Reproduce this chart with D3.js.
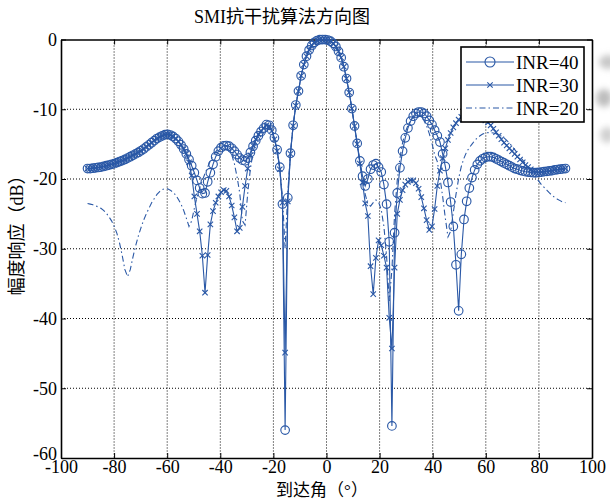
<!DOCTYPE html>
<html>
<head>
<meta charset="utf-8">
<script src="https://cdn.jsdelivr.net/npm/d3@7"></script>
<style>
  body { margin: 0; background: #fff; }
  svg { display: block; }
</style>
</head>
<body>
<svg id="chart" width="610" height="499"></svg>
<script>
/* Data: angle grid (180 samples from -90 to 90) and the three patterns in dB */
const angles = d3.range(180).map(i => -90 + i * 180 / 179);

const inr40 = [
  -18.5,-18.5,-18.45,-18.4,-18.35,-18.3,-18.2,-18.1,-18.0,-17.9,
  -17.8,-17.65,-17.5,-17.35,-17.2,-17.0,-16.8,-16.6,-16.4,-16.2,
  -15.95,-15.7,-15.4,-15.1,-14.8,-14.5,-14.2,-14.0,-13.8,-13.65,
  -13.6,-13.7,-13.9,-14.2,-14.6,-15.1,-15.7,-16.4,-17.2,-18.1,
  -19.1,-20.2,-21.3,-22.1,-22.0,-20.4,-19.1,-17.9,-16.8,-16.0,
  -15.5,-15.25,-15.2,-15.3,-15.6,-16.0,-16.5,-17.0,-17.3,-17.4,
  -17.0,-16.2,-15.3,-14.5,-13.8,-13.2,-12.7,-12.2,-12.3,-13.0,
  -14.1,-15.8,-18.3,-23.6,-56.0,-22.7,-16.3,-12.3,-9.4,-7.4,
  -5.2,-3.6,-2.4,-1.5,-0.85,-0.4,-0.15,-0.03,0,-0.02,
  -0.08,-0.25,-0.55,-1.0,-1.7,-2.6,-3.9,-5.6,-7.6,-9.9,
  -12.4,-14.9,-17.4,-19.6,-21.0,-20.0,-18.6,-18.0,-17.8,-18.3,
  -19.0,-20.8,-23.6,-29.0,-55.4,-27.7,-22.0,-18.4,-16.0,-14.1,
  -12.7,-11.7,-11.0,-10.6,-10.4,-10.4,-10.6,-11.0,-11.6,-12.2,
  -13.0,-13.8,-14.7,-16.4,-18.2,-20.5,-23.3,-26.8,-32.3,-38.9,
  -30.8,-25.8,-23.2,-21.3,-19.8,-18.7,-17.9,-17.4,-17.1,-16.9,
  -16.8,-16.8,-16.9,-17.1,-17.3,-17.5,-17.7,-17.9,-18.1,-18.3,
  -18.5,-18.6,-18.75,-18.85,-18.95,-19.0,-19.05,-19.1,-19.1,-19.05,
  -19.0,-18.95,-18.9,-18.85,-18.8,-18.7,-18.65,-18.6,-18.55,-18.5
];

const inr30 = [
  -18.5,-18.5,-18.45,-18.4,-18.35,-18.3,-18.2,-18.1,-18.0,-17.9,
  -17.8,-17.65,-17.5,-17.35,-17.2,-17.0,-16.8,-16.6,-16.4,-16.2,
  -15.95,-15.7,-15.4,-15.1,-14.8,-14.5,-14.2,-14.0,-13.8,-13.65,
  -13.6,-13.7,-13.9,-14.2,-14.6,-15.1,-15.7,-16.4,-17.6,-19.5,
  -22.5,-25.0,-27.5,-31.0,-36.3,-30.9,-26.5,-24.6,-23.4,-22.5,
  -21.9,-21.6,-21.7,-22.5,-23.8,-25.5,-27.5,-27.0,-24.0,-21.0,
  -18.5,-16.6,-15.2,-14.3,-13.6,-13.1,-12.7,-12.3,-12.4,-13.1,
  -14.3,-16.0,-18.6,-23.4,-44.9,-23.2,-16.4,-12.4,-9.5,-7.4,
  -5.2,-3.6,-2.4,-1.5,-0.85,-0.4,-0.15,-0.03,0,-0.02,
  -0.08,-0.25,-0.55,-1.0,-1.7,-2.6,-3.9,-5.6,-7.6,-9.9,
  -12.4,-15.0,-17.8,-20.5,-23.5,-25.3,-32.5,-36.5,-31.3,-28.8,
  -29.5,-31.0,-32.7,-39.9,-44.3,-32.7,-25.0,-23.0,-21.6,-20.8,
  -20.4,-20.2,-20.2,-20.6,-21.4,-22.6,-24.2,-25.9,-27.3,-26.8,
  -24.3,-21.0,-18.8,-17.0,-15.6,-14.4,-13.4,-12.6,-12.0,-11.5,
  -11.1,-10.8,-10.6,-10.5,-10.5,-10.6,-10.8,-11.0,-11.3,-11.6,
  -11.9,-12.3,-12.8,-13.3,-13.8,-14.3,-14.8,-15.2,-15.6,-16.0,
  -16.4,-16.8,-17.2,-17.6,-18.0,-18.3,-18.6,-18.9,-19.0,-19.05,
  -19.0,-18.95,-18.9,-18.85,-18.8,-18.7,-18.65,-18.6,-18.55,-18.5
];

const inr20 = [
  -23.5,-23.6,-23.7,-23.85,-24.0,-24.2,-24.5,-24.9,-25.4,-26.0,
  -26.8,-27.8,-29.2,-31.0,-33.0,-34.0,-33.0,-31.2,-29.6,-28.2,
  -27.0,-25.9,-25.0,-24.2,-23.4,-22.8,-22.2,-21.8,-21.5,-21.4,
  -21.4,-21.6,-21.9,-22.3,-22.9,-23.6,-24.5,-25.6,-26.8,-26.0,
  -24.2,-22.6,-21.3,-20.2,-19.2,-18.3,-17.4,-16.7,-16.1,-15.6,
  -15.3,-15.2,-15.3,-15.7,-16.5,-17.8,-19.7,-22.0,-26.0,-26.6,
  -22.0,-18.5,-16.2,-14.6,-13.6,-13.0,-12.6,-12.3,-12.4,-13.1,
  -14.3,-16.0,-18.5,-22.5,-30.0,-22.0,-16.2,-12.3,-9.4,-7.4,
  -5.2,-3.6,-2.4,-1.5,-0.85,-0.4,-0.15,-0.03,0,-0.02,
  -0.08,-0.25,-0.55,-1.0,-1.7,-2.6,-3.9,-5.6,-7.6,-9.9,
  -12.4,-15.0,-17.6,-20.0,-22.2,-23.6,-23.9,-23.4,-23.0,-23.3,
  -24.4,-26.8,-31.0,-37.5,-33.0,-25.0,-20.2,-17.0,-14.8,-13.3,
  -12.3,-11.6,-11.1,-10.9,-10.9,-11.1,-11.6,-12.4,-13.5,-14.9,
  -16.5,-17.5,-19.8,-22.5,-25.6,-28.3,-27.5,-24.8,-22.2,-19.9,
  -18.2,-17.0,-16.1,-15.5,-15.0,-14.5,-14.1,-13.8,-13.55,-13.4,
  -13.35,-13.35,-13.4,-13.5,-13.65,-13.85,-14.1,-14.45,-14.85,-15.3,
  -15.8,-16.3,-16.8,-17.3,-17.8,-18.3,-18.8,-19.3,-19.8,-20.3,
  -20.8,-21.2,-21.6,-22.0,-22.35,-22.65,-22.9,-23.1,-23.3,-23.4
];

const seriesNames = ["INR=40", "INR=30", "INR=20"];
const xTicks = [-100, -80, -60, -40, -20, 0, 20, 40, 60, 80, 100];
const yTicks = [-60, -50, -40, -30, -20, -10, 0];

/* Layout */
const plot = { left: 61, right: 592, top: 39.5, bottom: 458 };
const blue = "#2a58a6";
const serif = "'Liberation Serif', 'Times New Roman', serif";
const cjk = "'Liberation Serif', 'Noto Sans CJK SC', serif";

const svg = d3.select("#chart");

const x = d3.scaleLinear().domain([-100, 100]).range([plot.left, plot.right]);
const y = d3.scaleLinear().domain([-60, 0]).range([plot.bottom, plot.top]);

/* faint smudge at the right edge of the scan */
const defs = svg.append("defs");
defs.append("filter").attr("id", "blur")
  .append("feGaussianBlur").attr("stdDeviation", 3);
const smudge = svg.append("g").attr("filter", "url(#blur)");
smudge.append("ellipse").attr("cx", 608).attr("cy", 62).attr("rx", 9).attr("ry", 7).attr("fill", "#c8c8c8");
smudge.append("ellipse").attr("cx", 604).attr("cy", 98).attr("rx", 8).attr("ry", 9).attr("fill", "#bdbdbd");
smudge.append("ellipse").attr("cx", 607).attr("cy", 135).attr("rx", 7).attr("ry", 8).attr("fill", "#d0d0d0");

/* Grid */
svg.append("g")
  .selectAll("line")
  .data(xTicks.slice(1, -1))
  .join("line")
    .attr("x1", d => x(d)).attr("x2", d => x(d))
    .attr("y1", plot.top).attr("y2", plot.bottom)
    .attr("stroke", "#000").attr("stroke-width", 1)
    .attr("stroke-dasharray", "1,2");

svg.append("g")
  .selectAll("line")
  .data(yTicks.slice(1, -1))
  .join("line")
    .attr("x1", plot.left).attr("x2", plot.right)
    .attr("y1", d => y(d)).attr("y2", d => y(d))
    .attr("stroke", "#000").attr("stroke-width", 1)
    .attr("stroke-dasharray", "1,2");

/* Axes: ticks inward on all four sides */
const xAxis = svg.append("g")
  .attr("transform", `translate(0,${plot.bottom})`)
  .call(d3.axisBottom(x).tickValues(xTicks).tickSizeInner(-5).tickSizeOuter(0).tickPadding(2)
    .tickFormat(d => d));
const yAxis = svg.append("g")
  .attr("transform", `translate(${plot.left},0)`)
  .call(d3.axisLeft(y).tickValues(yTicks).tickSizeInner(-5).tickSizeOuter(0).tickPadding(4)
    .tickFormat(d => d));
const xTop = svg.append("g")
  .attr("transform", `translate(0,${plot.top})`)
  .call(d3.axisTop(x).tickValues(xTicks).tickSizeInner(-5).tickSizeOuter(0).tickFormat(""));
const yRight = svg.append("g")
  .attr("transform", `translate(${plot.right},0)`)
  .call(d3.axisRight(y).tickValues(yTicks).tickSizeInner(-5).tickSizeOuter(0).tickFormat(""));

[xAxis, yAxis, xTop, yRight].forEach(g => {
  g.select(".domain").attr("stroke", "#000").attr("stroke-width", 1.6);
  g.selectAll(".tick line").attr("stroke", "#000").attr("stroke-width", 1);
  g.selectAll(".tick text")
    .attr("fill", "#000")
    .style("font-family", serif)
    .style("font-size", "18px");
});
xAxis.selectAll(".tick text").attr("dy", "0.72em");
/* the bottom y label sits just above the axis line, as in the original */
yAxis.selectAll(".tick text").filter(d => d === -60).attr("dy", "0.1em");

/* Series */
const toPoints = vals => vals.map((v, i) => ({ a: angles[i], v }));
const line = d3.line().x(d => x(d.a)).y(d => y(d.v));
const layer = svg.append("g");

layer.append("path")
  .datum(toPoints(inr40))
  .attr("fill", "none").attr("stroke", blue).attr("stroke-width", 1.1)
  .attr("d", line);
layer.append("g").selectAll("circle")
  .data(toPoints(inr40))
  .join("circle")
    .attr("cx", d => x(d.a)).attr("cy", d => y(d.v)).attr("r", 4.3)
    .attr("fill", "none").attr("stroke", blue).attr("stroke-width", 1.15);

layer.append("path")
  .datum(toPoints(inr30))
  .attr("fill", "none").attr("stroke", blue).attr("stroke-width", 1.1)
  .attr("d", line);
const crossPath = (cx, cy, s) =>
  `M${cx - s},${cy - s}L${cx + s},${cy + s}M${cx - s},${cy + s}L${cx + s},${cy - s}`;
layer.append("g").selectAll("path")
  .data(toPoints(inr30))
  .join("path")
    .attr("d", d => crossPath(x(d.a), y(d.v), 2.7))
    .attr("fill", "none").attr("stroke", blue).attr("stroke-width", 1.1);

layer.append("path")
  .datum(toPoints(inr20))
  .attr("fill", "none").attr("stroke", blue).attr("stroke-width", 1.1)
  .attr("stroke-dasharray", "6,3,1.5,3")
  .attr("d", line);

/* Legend */
const legend = svg.append("g").attr("transform", "translate(461,47)");
legend.append("rect")
  .attr("width", 123).attr("height", 75)
  .attr("fill", "#fff").attr("stroke", "#000").attr("stroke-width", 1.6);
const rowY = [15, 38, 61];
seriesNames.forEach((name, i) => {
  const row = legend.append("g").attr("transform", `translate(0,${rowY[i]})`);
  row.append("line")
    .attr("x1", 5).attr("x2", 53).attr("y1", 0).attr("y2", 0)
    .attr("stroke", blue).attr("stroke-width", 1.1)
    .attr("stroke-dasharray", i === 2 ? "6,3,1.5,3" : null);
  if (i === 0) {
    row.append("circle").attr("cx", 29).attr("cy", 0).attr("r", 5)
      .attr("fill", "none").attr("stroke", blue).attr("stroke-width", 1.1);
  } else if (i === 1) {
    row.append("path").attr("d", crossPath(29, 0, 2.7))
      .attr("stroke", blue).attr("stroke-width", 1.1);
  }
  row.append("text")
    .attr("x", 55).attr("y", 0).attr("dy", "0.35em")
    .style("font-family", serif).style("font-size", "19px")
    .attr("fill", "#000")
    .text(name);
});

/* Title and axis labels */
svg.append("text")
  .attr("x", 282).attr("y", 17).attr("dy", "0.35em")
  .attr("text-anchor", "middle")
  .style("font-family", cjk).style("font-size", "18px")
  .text("SMI抗干扰算法方向图");

svg.append("text")
  .attr("x", 322).attr("y", 490).attr("dy", "0.35em")
  .attr("text-anchor", "middle")
  .style("font-family", cjk).style("font-size", "17px")
  .text("到达角（°）");

svg.append("text")
  .attr("transform", "translate(17,231) rotate(-90)")
  .attr("dy", "0.35em")
  .attr("text-anchor", "middle")
  .style("font-family", cjk).style("font-size", "18px")
  .text("幅度响应（dB）");
</script>
</body>
</html>
